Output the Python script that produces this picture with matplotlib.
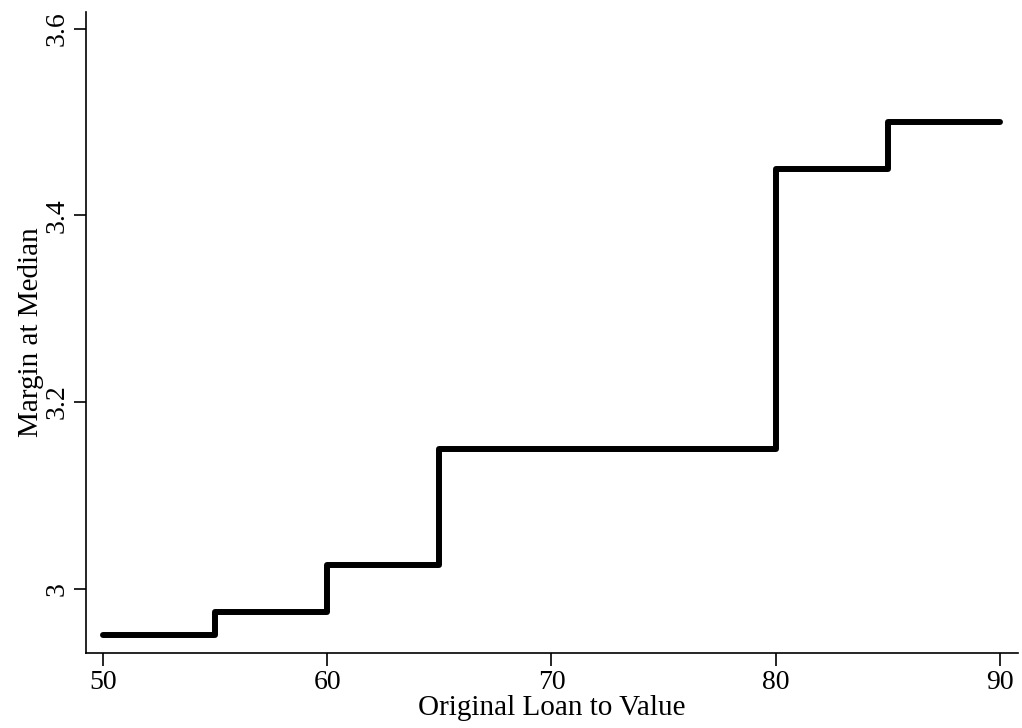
import numpy as np
import matplotlib
matplotlib.use("Agg")
import matplotlib.pyplot as plt

plt.rcParams['font.family'] = ['Liberation Serif', 'DejaVu Serif']

# Margin at median by original LTV band
ltv = [50, 55, 60, 65, 70, 75, 80, 85, 90]
margin = [2.95, 2.975, 3.025, 3.15, 3.15, 3.15, 3.45, 3.5, 3.5]

fig = plt.figure(figsize=(10.22, 7.28), dpi=100)
ax = fig.add_axes([0.0841, 0.103, 0.9119, 0.8805])

ax.step(ltv, margin, where='post', color='black', linewidth=4.3,
        solid_capstyle='round', solid_joinstyle='round')

ax.set_xlim(49.24, 90.8)
ax.set_ylim(2.931, 3.618)
ax.set_xticks([50, 60, 70, 80, 90])
ax.set_yticks([3.0, 3.2, 3.4, 3.6])
ax.set_yticklabels(['3', '3.2', '3.4', '3.6'], rotation=90, va='center')
ax.tick_params(labelsize=20, length=9, width=1.2, pad=3)

for s in ['top', 'right']:
    ax.spines[s].set_visible(False)
for s in ['left', 'bottom']:
    ax.spines[s].set_linewidth(1.2)

ax.set_xlabel('Original Loan to Value', fontsize=21, labelpad=0)
ax.set_ylabel('Margin at Median', fontsize=21, labelpad=0)

fig.savefig('out.png', dpi=100)
